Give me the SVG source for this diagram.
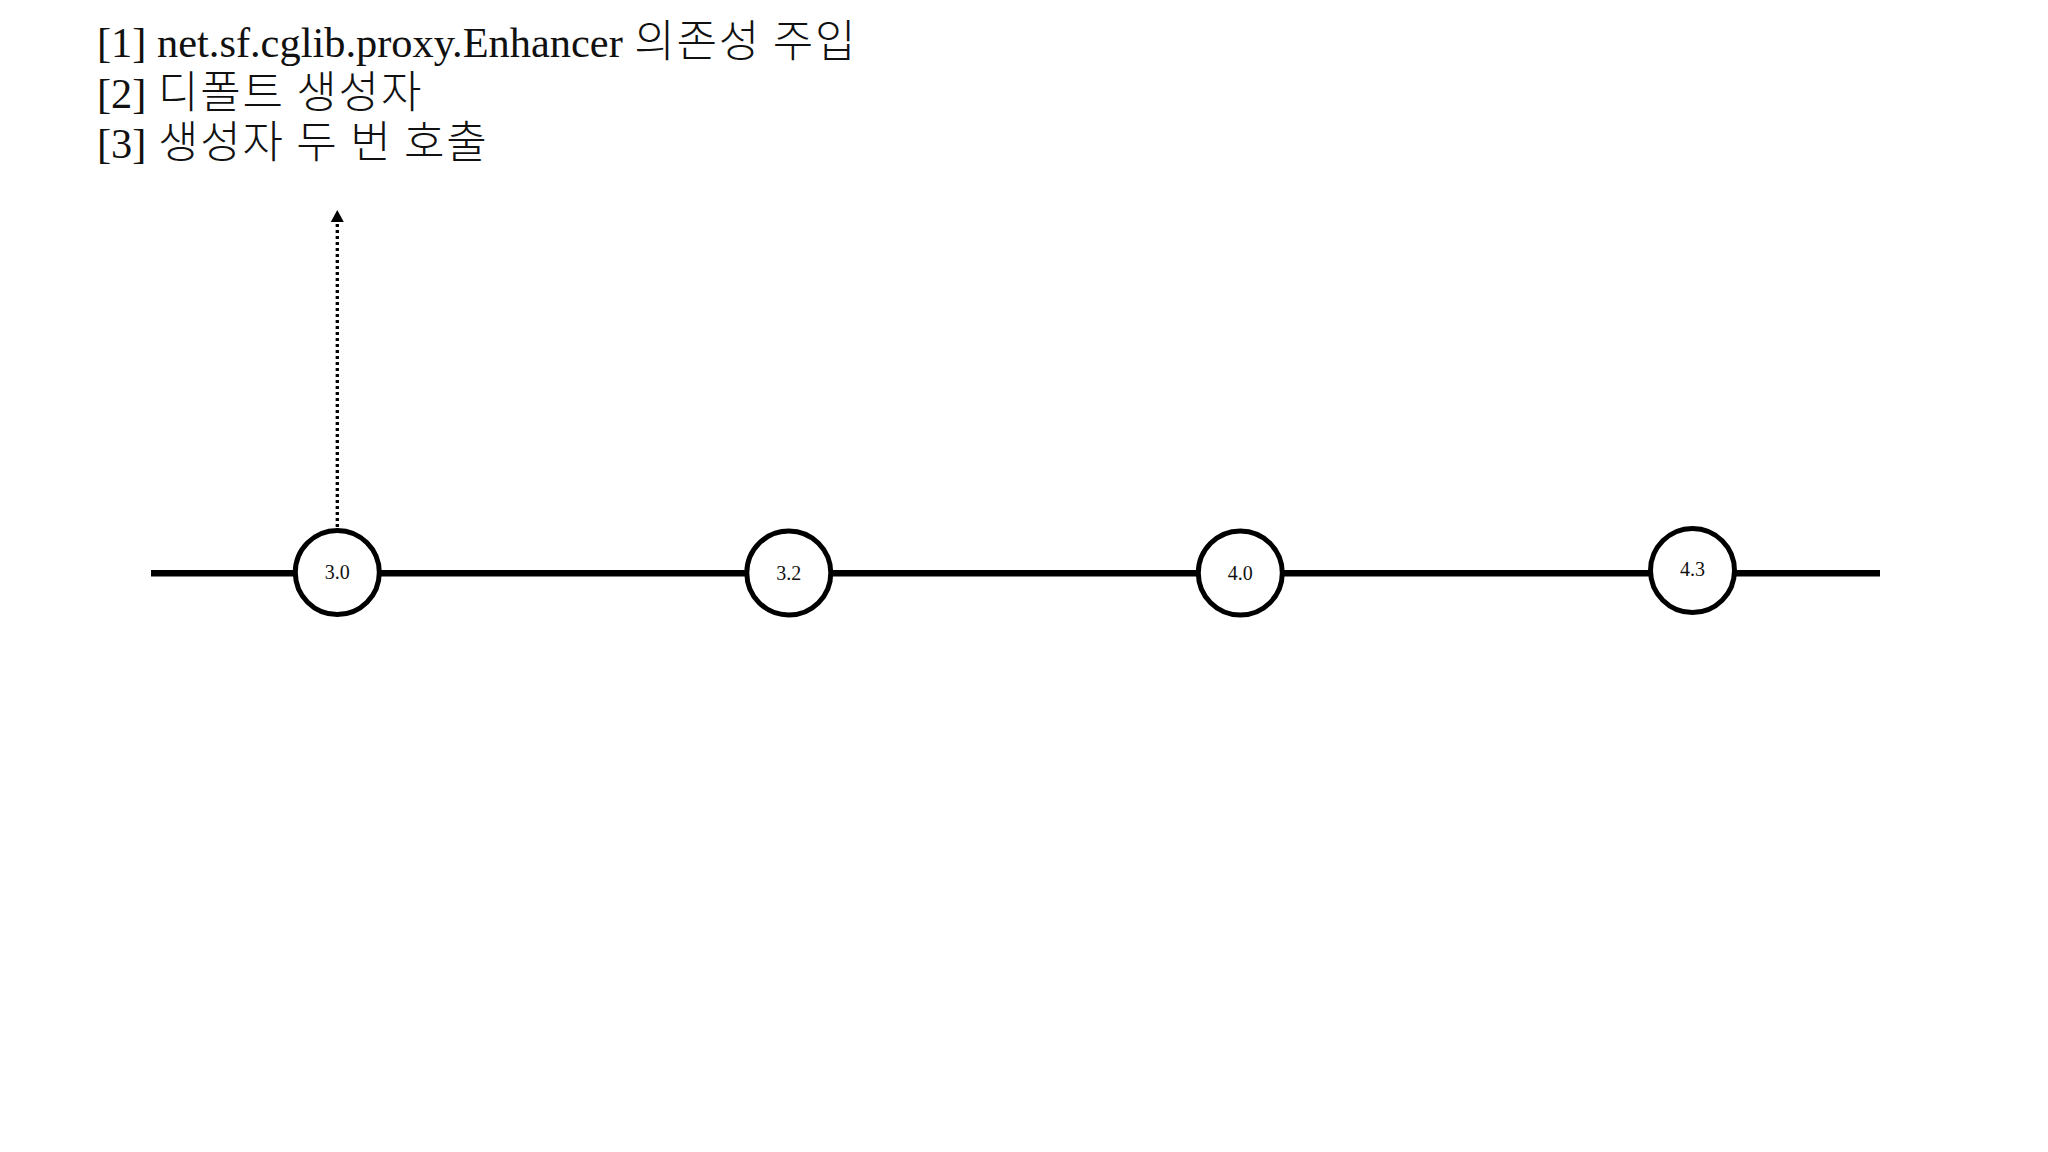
<svg xmlns="http://www.w3.org/2000/svg" width="2048" height="1152" viewBox="0 0 2048 1152">
  <style>
    .title { font-family: "Liberation Serif", "Noto Sans CJK KR", serif; font-size: 42.4px; fill: #111; }
    .ko { font-family: "Noto Sans CJK KR", "Noto Sans CJK SC", sans-serif; font-size: 44px; font-weight: 300; letter-spacing: 1.8px; }
    .node circle { fill: #fff; stroke: #000; stroke-width: 5; }
    .node text { font-family: "Liberation Serif", serif; font-size: 20px; fill: #111; text-anchor: middle; }
    .axis { stroke: #000; stroke-width: 6.5; fill: none; }
    .dotted { stroke: #000; stroke-width: 3.3; stroke-dasharray: 3 3; fill: none; }
  </style>
  <rect width="2048" height="1152" fill="#fff"/>

  <g id="notes">
    <text class="title" x="97" y="57">[1] net.sf.cglib.proxy.Enhancer<tspan class="ko" letter-spacing="2.4"> 의존성 주입</tspan></text>
    <text class="title" x="97" y="107.5">[2]<tspan class="ko"> 디폴트 생성자</tspan></text>
    <text class="title" x="97" y="158">[3]<tspan class="ko"> 생성자 두 번 호출</tspan></text>
  </g>

  <g id="connectors">
    <line class="axis" x1="151" y1="573.3" x2="1880" y2="573.3"/>
    <line class="dotted" x1="337.3" y1="527" x2="337.3" y2="222"/>
    <path d="M330.8,222 L337.3,210 L343.8,222 Z" fill="#000"/>
  </g>

  <g id="node-3-0" class="node">
    <circle cx="337.3" cy="572.5" r="42"/>
    <text x="337.3" y="579">3.0</text>
  </g>
  <g id="node-3-2" class="node">
    <circle cx="788.8" cy="573" r="42"/>
    <text x="788.8" y="579.5">3.2</text>
  </g>
  <g id="node-4-0" class="node">
    <circle cx="1240.3" cy="573" r="42"/>
    <text x="1240.3" y="579.5">4.0</text>
  </g>
  <g id="node-4-3" class="node">
    <circle cx="1692.5" cy="570.5" r="42"/>
    <text x="1692.5" y="576">4.3</text>
  </g>
</svg>
